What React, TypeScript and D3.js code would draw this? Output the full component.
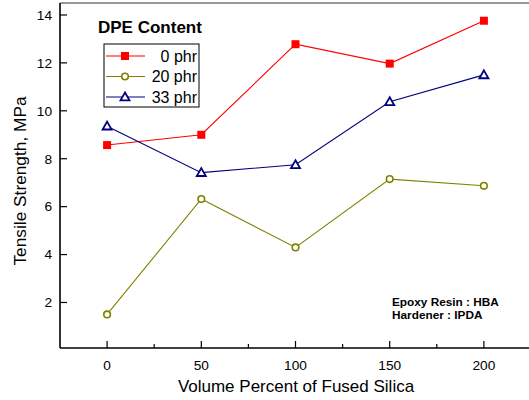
import React from "react";
import * as d3 from "d3";

const silica = [0, 50, 100, 150, 200];
const phr0 = [8.57, 9.0, 12.78, 11.97, 13.76];
const phr20 = [1.5, 6.32, 4.3, 7.15, 6.87];
const phr33 = [9.36, 7.42, 7.75, 10.38, 11.5];
const seriesNames = ["0 phr", "20 phr", "33 phr"];
const xTicks = [0, 50, 100, 150, 200];
const xMinorTicks = [25, 75, 125, 175];
const yTicks = [2, 4, 6, 8, 10, 12, 14];

const W = 529;
const H = 400;
const left = 60;
const top = 3;
const right = 531;
const bottom = 348;

const x = d3.scaleLinear().domain([-25, 225]).range([left, right]);
const y = d3.scaleLinear().domain([0.1, 14.5]).range([bottom, top]);

const colors = ["#ff0000", "#808000", "#000080"];
const font = "Arial, 'Liberation Sans', sans-serif";

function Marker({ kind, cx, cy, color }: { kind: number; cx: number; cy: number; color: string }) {
  if (kind === 0) return <rect x={cx - 4} y={cy - 4} width={8} height={8} fill={color} />;
  if (kind === 1) return <circle cx={cx} cy={cy} r={3.3} fill="#fff" stroke={color} strokeWidth={1.6} />;
  const s = 4.5;
  return (
    <path
      d={`M${cx},${cy - s}L${cx + s},${cy + s * 0.75}L${cx - s},${cy + s * 0.75}Z`}
      fill="#fff"
      stroke={color}
      strokeWidth={1.8}
      strokeLinejoin="miter"
    />
  );
}

export default function App() {
  const all = [phr0, phr20, phr33];
  const line = d3
    .line<number>()
    .x((_, i) => x(silica[i]))
    .y((d) => y(d));

  return (
    <svg width={W} height={H} style={{ display: "block", position: "absolute", left: 0, top: 0 }} fontFamily={font}>
      <rect width={W} height={H} fill="#fff" />
      {/* frame */}
      <line x1={left} x2={right} y1={top} y2={top} stroke="#333" strokeWidth={1.2} />
      <line x1={left} x2={left} y1={top} y2={bottom} stroke="#000" strokeWidth={1.6} />
      <line x1={left} x2={right} y1={bottom} y2={bottom} stroke="#000" strokeWidth={1.6} />

      {/* y ticks */}
      {yTicks.map((t) => (
        <g key={t}>
          <line x1={left} x2={left + 7} y1={y(t)} y2={y(t)} stroke="#000" strokeWidth={1.2} />
          <text x={left - 8} y={y(t)} dy="0.35em" textAnchor="end" fontSize={13.7}>
            {t}
          </text>
        </g>
      ))}
      {/* x ticks */}
      {xTicks.map((t) => (
        <g key={t}>
          <line x1={x(t)} x2={x(t)} y1={bottom} y2={bottom - 7} stroke="#000" strokeWidth={1.2} />
          <text x={x(t)} y={bottom + 22} textAnchor="middle" fontSize={13.7}>
            {t}
          </text>
        </g>
      ))}
      {xMinorTicks.map((t) => (
        <line key={t} x1={x(t)} x2={x(t)} y1={bottom} y2={bottom - 4} stroke="#000" strokeWidth={1.2} />
      ))}

      {/* axis titles */}
      <text x={296} y={392} textAnchor="middle" fontSize={17}>
        Volume Percent of Fused Silica
      </text>
      <text transform={`translate(26,181) rotate(-90)`} textAnchor="middle" fontSize={17.3}>
        Tensile Strength, MPa
      </text>

      {/* series */}
      {all.map((vals, k) => (
        <g key={k}>
          <path d={line(vals) || ""} fill="none" stroke={colors[k]} strokeWidth={1.1} />
          {vals.map((v, i) => (
            <Marker key={i} kind={k} cx={x(silica[i])} cy={y(v)} color={colors[k]} />
          ))}
        </g>
      ))}

      {/* legend */}
      <text x={98} y={33} fontSize={17} fontWeight="bold">
        DPE Content
      </text>
      <rect x={104} y={44} width={95} height={63} fill="#fff" stroke="#000" strokeWidth={1} />
      {seriesNames.map((name, k) => {
        const cy = 56 + k * 20.5;
        return (
          <g key={name}>
            <line x1={106} x2={145} y1={cy} y2={cy} stroke={colors[k]} strokeWidth={1.1} />
            <Marker kind={k} cx={125} cy={cy} color={colors[k]} />
            <text x={197} y={cy} dy="0.36em" textAnchor="end" fontSize={16}>
              {name}
            </text>
          </g>
        );
      })}

      {/* annotation */}
      <text x={392} y={306} fontSize={11.8} fontWeight="bold">
        Epoxy Resin : HBA
      </text>
      <text x={392} y={319} fontSize={11.8} fontWeight="bold">
        Hardener : IPDA
      </text>
    </svg>
  );
}
